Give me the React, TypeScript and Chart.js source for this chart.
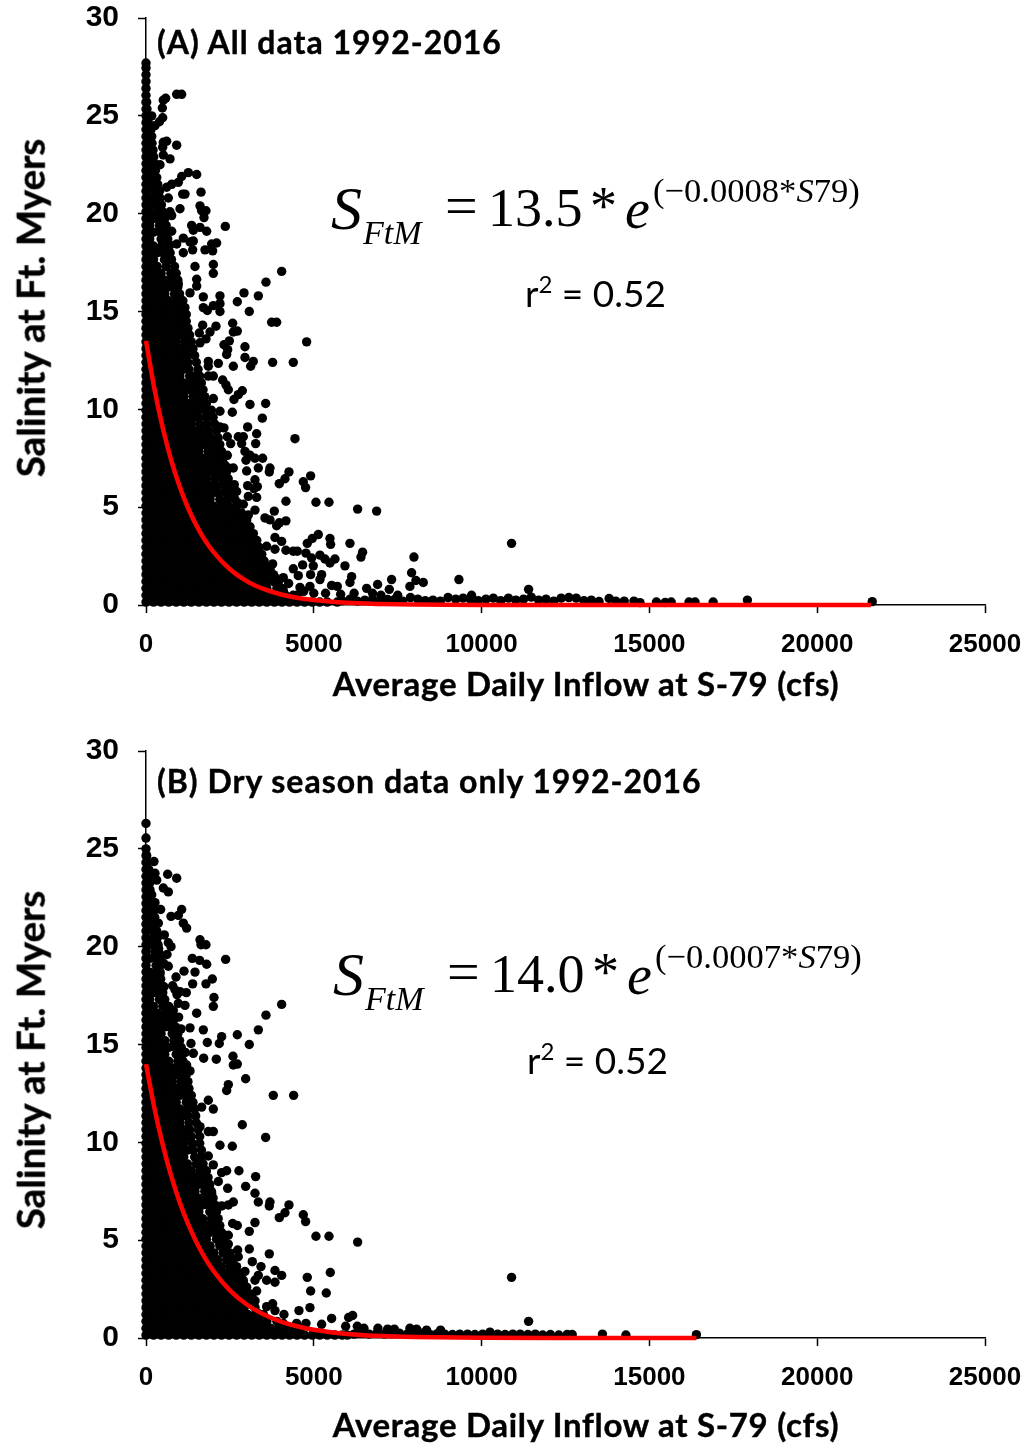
import React, { useEffect, useRef } from "react";
import { Chart, registerables } from "chart.js";

Chart.register(...registerables);

const xTicks = [0, 5000, 10000, 15000, 20000, 25000];
const yTicks = [0, 5, 10, 15, 20, 25, 30];

const fitInflowA = [0, 250, 500, 750, 1000, 1250, 1500, 1750, 2000, 2500, 3000, 3500, 4000, 4500, 5000, 6000, 7000, 8000, 10000, 12000, 15000, 21600];
const fitSalinityA = [13.5, 11.05, 9.05, 7.41, 6.07, 4.97, 4.07, 3.33, 2.73, 1.83, 1.22, 0.82, 0.55, 0.37, 0.25, 0.11, 0.05, 0.02, 0.0, 0.0, 0.0, 0.0];
const fitInflowB = [0, 250, 500, 750, 1000, 1250, 1500, 1750, 2000, 2500, 3000, 3500, 4000, 4500, 5000, 6000, 7000, 8000, 10000, 12000, 16400];
const fitSalinityB = [14.0, 11.75, 9.87, 8.28, 6.95, 5.84, 4.9, 4.11, 3.45, 2.43, 1.71, 1.21, 0.85, 0.6, 0.42, 0.21, 0.1, 0.05, 0.01, 0.0, 0.0];

// Dense mass near the axis: [salinity, inflows read across that level]
const denseA: [number, number[]][] = [
[0.15,[0,225,450,675,900,1125,1350,1575,1800,2025,2250,2475,2700,2925,3150,3375,3600,3825,4050,4275,4500,4725,4950,5175,5400,5700]],
[0.5,[0,110,335,560,785,1010,1235,1460,1685,1910,2135,2360,2585,2810,3035,3260,3485,3710,3935,4160,4385,4500]],
[0.85,[0,225,450,675,900,1125,1350,1575,1800,2025,2250,2475,2700,2925,3150,3375,3600,3900,4050]],
[1.2,[0,110,335,560,785,1010,1235,1460,1685,1910,2135,2360,2585,2810,3035,3260,3485,3600,3780,3950]],
[1.55,[0,225,450,675,900,1125,1350,1575,1800,2025,2250,2475,2700,2925,3150,3350,3550,3800]],
[1.9,[0,110,335,560,785,1010,1235,1460,1685,1910,2135,2360,2585,2810,3035,3150,3350,3520,3680]],
[2.25,[0,225,450,675,900,1125,1350,1575,1800,2025,2250,2475,2700,2925,3000,3200,3400,3520]],
[2.6,[0,110,335,560,785,1010,1235,1460,1685,1910,2135,2360,2585,2810,2950,3150,3300,3450]],
[2.95,[0,225,450,675,900,1125,1350,1575,1800,2025,2250,2475,2700,2850,3070,3230,3370]],
[3.3,[0,110,335,560,785,1010,1235,1460,1685,1910,2135,2360,2585,2750,2960,3130,3300]],
[3.65,[0,225,450,675,900,1125,1350,1575,1800,2025,2250,2475,2650,2860,3030,3200]],
[4.0,[0,110,335,560,785,1010,1235,1460,1685,1910,2135,2360,2550,2770,2940,3100]],
[4.35,[0,225,450,675,900,1125,1350,1575,1800,2025,2250,2450,2670,2840,3000]],
[4.7,[0,110,335,560,785,1010,1235,1460,1685,1910,2135,2350,2570,2720,2850]],
[5.05,[0,225,450,675,900,1125,1350,1575,1800,2025,2250,2470,2700]],
[5.4,[0,110,335,560,785,1010,1235,1460,1685,1910,2200,2420,2650]],
[5.75,[0,225,450,675,900,1125,1350,1575,1800,2025,2150,2370,2550]],
[6.1,[0,110,335,560,785,1010,1235,1460,1685,1910,2100,2320,2500]],
[6.45,[0,225,450,675,900,1125,1350,1575,1800,2050,2270,2450]],
[6.8,[0,110,335,560,785,1010,1235,1460,1685,1910,2000,2220,2400]],
[7.15,[0,225,450,675,900,1125,1350,1575,1800,1950,2170,2350]],
[7.5,[0,110,335,560,785,1010,1235,1460,1685,1900,2120,2300]],
[7.85,[0,225,450,675,900,1125,1350,1575,1850,2060,2250]],
[8.2,[0,110,335,560,785,1010,1235,1460,1685,1800,2010,2200]],
[8.55,[0,225,450,675,900,1125,1350,1575,1700,1920,2150]],
[8.9,[0,110,335,560,785,1010,1235,1460,1650,1870,2100]],
[9.25,[0,225,450,675,900,1125,1350,1600,1820,2050]],
[9.6,[0,110,335,560,785,1010,1235,1460,1570,1790,2000]],
[9.95,[0,225,450,675,900,1125,1350,1550,1770,1950]],
[10.3,[0,110,335,560,785,1010,1235,1450,1650,1800]],
[10.65,[0,225,450,675,900,1125,1400,1600,1750]],
[11.0,[0,110,335,560,785,1010,1235,1370,1550,1700]],
[11.35,[0,225,450,675,900,1125,1350,1500,1650]],
[11.7,[0,110,335,560,785,1010,1300,1450,1600]],
[12.05,[0,225,450,675,900,1125,1280,1550]],
[12.4,[0,110,335,560,785,1010,1250,1500]],
[12.75,[0,225,450,675,900,1125,1230,1450]],
[13.1,[0,110,335,560,785,1010,1200,1400]],
[13.45,[0,225,450,675,900,1150,1350]],
[13.8,[0,110,335,560,785,1010,1120,1300]],
[14.15,[0,225,450,675,900,1100,1250]],
[14.5,[0,110,335,560,785,1000,1200]],
[14.85,[0,225,450,675,900,1050,1200]],
[15.2,[0,110,335,560,785,1000,1160]],
[15.55,[0,225,450,675,900,1100]],
[15.9,[0,110,335,560,850,1000]],
[16.25,[0,225,450,675,800,950]],
[16.6,[0,110,335,560,780,950]],
[16.95,[0,225,450,740,900]],
[17.3,[0,110,335,600,850]],
[17.65,[0,225,550,760]],
[18.0,[0,110,335,500,720]],
[18.35,[0,225,470,680]],
[18.7,[0,110,450,650]],
[19.05,[0,225,430,630]],
[19.4,[0,110,400,600]],
[19.75,[0,225,380,560]],
[20.1,[0,110,350,500]],
[20.45,[0,225,300,460]],
[20.8,[0,110,270,420]],
[21.15,[0,250,400]],
[21.5,[0,110,230,350]],
[21.85,[0,210,320]],
[22.2,[0,110,190,280]],
[22.55,[0,170,260]],
[22.9,[0,150,230]],
[23.25,[0,140,210]],
[23.6,[0,120,180]],
[23.95,[0,110,170]],
[24.3,[0,90,150]],
[24.65,[0,70]],
[25.0,[0,50]],
[25.35,[0,30]],
[25.7,[0,20]],
[26.05,[0]],
[26.4,[0]],
[26.75,[0]],
[27.1,[0]],
[27.45,[0]],
[27.7,[0]],
];

const scatterA: [number, number][] = [
[1063,26.1],[914,26.1],[586,25.9],[516,25.8],[487,25.4],[170,25],[497,24.9],[400,24.7],[268,24.5],[914,23.5],[616,23.7],[516,23.65],[497,23.4],[516,23],[715,22.8],[417,22.5],[1261,22.1],[1510,22],[1063,21.9],[963,21.6],[765,21.5],[616,21.35],[1639,21.1],[1162,21],[1092,21],[665,20.8],[1609,20.4],[1013,20.25],[1787,20.15],[1658,20.15],[715,20.1],[1728,19.8],[765,19.9],[2363,19.35],[1360,19.4],[1609,19.3],[1807,19.1],[1410,19.15],[765,19.1],[1112,18.75],[2105,18.5],[1956,18.45],[1410,18.6],[1311,18.55],[1758,18.15],[1986,18.1],[1390,18.15],[914,18.45],[715,18.4],[1112,18],[566,17.95],[2006,17.4],[1460,17.3],[2006,16.95],[4042,17.05],[3575,16.5],[1510,16.65],[1510,16.3],[963,16.4],[2920,15.95],[3347,15.8],[2204,15.8],[1708,15.75],[1311,15.95],[2721,15.5],[2204,15.4],[2006,15.3],[1708,15.2],[1827,15.05],[2204,15],[3078,15],[3744,14.45],[3893,14.45],[2582,14.4],[2085,14.25],[1688,14.3],[2721,14],[2602,13.95],[1907,13.95],[1589,13.9],[1787,13.6],[4786,13.45],[2483,13.5],[2323,13.3],[2949,13.2],[1609,13.4],
[2433,13.05],[2403,12.8],[2949,12.65],[3197,12.45],[3118,12.2],[3773,12.4],[4389,12.4],[2602,12.2],[2155,12.35],[1857,12.45],[1857,12.2],[2006,11.7],[1857,11.7],[2284,11.5],[2383,11.25],[2453,11],[2870,10.95],[2750,10.75],[2621,10.5],[3098,10.25],[3565,10.3],[2006,10.55],[2204,9.9],[2572,9.85],[3466,9.55],[3029,9.1],[3297,8.75],[2204,9.1],[2323,9.05],[4439,8.5],[2900,8.6],[2750,8.6],[2423,8.6],[3267,8.25],[2850,8.25],[2522,8.25],[2949,7.85],[3098,7.65],[2979,7.4],[3247,7.5],[3475,7.5],[2423,7.65],[3346,7],[3694,7],[3674,6.8],[2999,6.85],[2602,7],[2453,7],[4260,6.8],[4905,6.6],[4687,6.3],[4756,6],[4141,6.45],[3972,6.2],[3247,6.4],[3317,6.05],[3029,6.1],[3217,5.95],[2631,6.15],[2701,5.8],[2552,5.7],[3297,5.5],[3049,5.55],[4170,5.3],[5064,5.25],[5452,5.25],[6306,4.9],[6872,4.8],[2900,5.15],[2750,5.2],[3247,4.85],[3823,4.8],[3049,4.6],[3545,4.45],[3694,4.35],[4170,4.3],[3972,4.2],[3893,4.05],[2701,4.7],[5134,3.6],[4955,3.4],[4806,3.15],[5482,3.4],[5501,3.1],[6077,3.15],[3843,3.45],[4042,3.25],[6454,2.7],[6405,2.45],[7984,2.45],[10893,3.15],[4170,2.8],[3843,2.85],[3595,3],[4389,2.75],[4508,2.75],[4766,2.65],[4935,2.4],[5183,2.55],[5332,2.35],[5482,2.15],[5631,2.35],[5928,2],[4667,2.05],[4985,2],[4905,1.55],[4389,1.85],[4538,1.5],[3773,2.1],[3495,2.25],[5233,1.55],[5183,1.3],[6127,1.45],[6077,1.15],[7914,1.65],[7318,1.3],[9324,1.3],[6901,1.05],[8043,1.25],[8262,1.15],[7864,0.95],[5531,1],[5700,0.95],[4091,1.4],[3843,1.4],[3595,1.55],[3347,1.35],[4885,0.95],[4588,0.9],[4091,0.75],[7249,0.8],[6574,0.85],[9701,0.5],[3700,1.8],[4250,1.1],[4700,0.7],[5000,0.6],[5350,0.6],[5800,0.55],[6200,0.6],[6750,0.6],[7000,0.5],[7500,0.5],
[5850,0.22],[6080,0.3],[6300,0.2],[6520,0.25],[6750,0.3],[6980,0.18],[7200,0.28],[7420,0.3],[7650,0.2],[7880,0.38],[8100,0.3],[8320,0.22],[8550,0.25],[8770,0.2],[9000,0.38],[9230,0.3],[9450,0.35],[9680,0.25],[9900,0.22],[10130,0.3],[10350,0.35],[10570,0.22],[10800,0.35],[11020,0.25],[11250,0.3],[11400,0.8],[11480,0.4],[11700,0.25],[11920,0.3],[12150,0.2],[12370,0.35],[12600,0.38],[12820,0.35],[13050,0.22],[13270,0.25],[13500,0.18],[13800,0.33],[14000,0.2],[14250,0.2],[14540,0.2],[14720,0.12],[15210,0.15],[15470,0.13],[15650,0.15],[16180,0.15],[16360,0.15],[16900,0.15],[17920,0.25],[21640,0.17],
];

const denseB: [number, number[]][] = [
[0.15,[0,225,450,675,900,1125,1350,1575,1800,2025,2250,2475,2700,2925,3150,3375,3600,3825,4050,4275,4500,4725,4950,5175,5400,5625,5850,6000]],
[0.5,[0,110,335,560,785,1010,1235,1460,1685,1910,2135,2360,2585,2810,3035,3260,3485,3710,3935,4160,4385,4600]],
[0.85,[0,225,450,675,900,1125,1350,1575,1800,2025,2250,2475,2700,2925,3150,3375,3600,3900]],
[1.2,[0,110,335,560,785,1010,1235,1460,1685,1910,2135,2360,2585,2810,3035,3260,3500]],
[1.55,[0,225,450,675,900,1125,1350,1575,1800,2025,2250,2475,2700,2925,3250]],
[1.9,[0,110,335,560,785,1010,1235,1460,1685,1910,2135,2360,2585,2810,3050,3250]],
[2.25,[0,225,450,675,900,1125,1350,1575,1800,2025,2250,2475,2700,2900,3100]],
[2.6,[0,110,335,560,785,1010,1235,1460,1685,1910,2135,2360,2585,2800,3000]],
[2.95,[0,225,450,675,900,1125,1350,1575,1800,2025,2250,2475,2700,2900]],
[3.3,[0,110,335,560,785,1010,1235,1460,1685,1910,2135,2360,2600,2800]],
[3.65,[0,225,450,675,900,1125,1350,1575,1800,2025,2250,2500,2700]],
[4.0,[0,110,335,560,785,1010,1235,1460,1685,1910,2135,2400,2600]],
[4.35,[0,225,450,675,900,1125,1350,1575,1800,2025,2300,2500]],
[4.7,[0,110,335,560,785,1010,1235,1460,1685,1910,2200,2400]],
[5.05,[0,225,450,675,900,1125,1350,1575,1800,2100,2300]],
[5.4,[0,110,335,560,785,1010,1235,1460,1685,1910,2050,2250]],
[5.75,[0,225,450,675,900,1125,1350,1575,1800,2000,2200]],
[6.1,[0,110,335,560,785,1010,1235,1460,1685,1950,2150]],
[6.45,[0,225,450,675,900,1125,1350,1575,1900,2100]],
[6.8,[0,110,335,560,785,1010,1235,1460,1685,1850,2050]],
[7.15,[0,225,450,675,900,1125,1350,1575,1800,2000]],
[7.5,[0,110,335,560,785,1010,1235,1460,1750,1950]],
[7.85,[0,225,450,675,900,1125,1350,1575,1700,1900]],
[8.2,[0,110,335,560,785,1010,1235,1460,1650,1850]],
[8.55,[0,225,450,675,900,1125,1350,1600,1800]],
[8.9,[0,110,335,560,785,1010,1235,1500,1700]],
[9.25,[0,225,450,675,900,1125,1450,1650]],
[9.6,[0,110,335,560,785,1010,1235,1400,1650]],
[9.95,[0,225,450,675,900,1125,1380,1600]],
[10.3,[0,110,335,560,785,1010,1235,1350,1600]],
[10.65,[0,225,450,675,900,1125,1300,1550]],
[11.0,[0,110,335,560,785,1010,1280,1500]],
[11.35,[0,225,450,675,900,1125,1250,1480]],
[11.7,[0,110,335,560,785,1010,1230,1450]],
[12.05,[0,225,450,675,900,1200,1400]],
[12.4,[0,110,335,560,785,1010,1150,1350]],
[12.75,[0,225,450,675,900,1100,1280]],
[13.1,[0,110,335,560,785,1050,1250]],
[13.45,[0,225,450,675,900,1020,1200]],
[13.8,[0,110,335,560,785,1000,1150]],
[14.15,[0,225,450,675,950,1100]],
[14.5,[0,110,335,560,900,1080]],
[14.85,[0,225,450,675,880,1050]],
[15.2,[0,110,335,560,830,1000]],
[15.55,[0,225,450,780,950]],
[15.9,[0,110,335,560,700,880]],
[16.25,[0,225,450,650,820]],
[16.6,[0,110,335,600,760]],
[16.95,[0,225,500,680]],
[17.3,[0,110,400,560]],
[17.65,[0,225,350,500]],
[18.0,[0,110,330,470]],
[18.35,[0,225,300,440]],
[18.7,[0,110,280,420]],
[19.05,[0,300,430]],
[19.4,[0,110,280,420]],
[19.75,[0,260,380]],
[20.1,[0,110,240,360]],
[20.45,[0,220,340]],
[20.8,[0,200,320]],
[21.15,[0,190,290]],
[21.5,[0,170,260]],
[21.85,[0,150,240]],
[22.2,[0,140]],
[22.55,[0,130]],
[22.9,[0,120]],
[23.25,[0,110]],
[23.6,[0,100]],
[23.95,[0,80]],
[24.3,[0,50]],
[24.65,[0,20]],
[25.0,[0]],
];

const scatterB: [number, number][] = [
[0,26.3],[0,25.55],[238,24.35],[645,23.7],[914,23.5],[268,23.75],[318,23.4],[516,23],[665,22.8],[170,22.65],[268,22.25],[437,21.9],[1063,21.9],[745,21.55],[963,21.6],[1112,21.2],[1211,20.95],[367,21.2],[546,20.6],[1609,20.35],[1639,20.1],[1787,20.1],[665,20.2],[745,20],[377,19.9],[626,19.6],[1380,19.4],[1599,19.3],[1807,19.1],[2373,19.35],[665,19],[526,19.15],[1132,18.75],[1460,18.7],[417,18.6],[894,18.45],[1976,18.35],[1390,18.1],[1787,18.1],[794,18],[536,17.95],[864,17.8],[1201,17.65],[1013,17.7],[924,17.55],[417,17.5],[2026,17.4],[4042,17.05],[526,17],[963,17.1],[1162,17],[2006,16.95],[814,16.75],[1510,16.6],[3575,16.5],[973,16.4],[516,16.5],[1043,15.8],[1311,15.85],[1708,15.75],[3347,15.75],[2721,15.5],[2254,15.4],[1827,15.1],[2184,15.05],[1340,15.05],[3078,15],[2592,14.4],[1718,14.3],[2095,14.25],[1410,14.55],[1172,14.6],[2721,14],[2602,13.95],[1311,13.65],[1211,13.95],[2969,13.25],
[2453,12.95],[2403,12.65],[3793,12.4],[4399,12.4],[1857,12.15],[2006,11.7],[1658,11.8],[2870,10.9],[3565,10.25],[2006,10.55],[1857,10.55],[1609,10.8],[2204,9.85],[2572,9.8],[1857,9.3],[2006,8.85],[2770,8.55],[2403,8.55],[2254,8.45],[3267,8.25],[2155,8],[2969,7.75],[2433,7.65],[3247,7.4],[1956,7.4],[3346,6.95],[3694,6.95],[3674,6.75],[4260,6.8],[2602,6.95],[2453,6.8],[2254,6.75],[4687,6.3],[4756,5.95],[4141,6.4],[3972,6.15],[3247,5.9],[2581,5.85],[2721,5.75],[3078,5.45],[5064,5.2],[5452,5.2],[6306,4.9],[2453,5.25],[2453,4.8],[2204,4.8],[3078,4.55],[2731,4.5],[3674,4.3],[2750,4.15],[3167,3.9],[3425,3.65],[3843,3.45],[4042,3.2],[2949,3.4],[3347,3.2],[3247,2.95],[3595,2.95],[3843,2.85],[4806,3.1],[5492,3.35],[10893,3.1],[4905,2.4],[5372,2.3],[2900,2.8],[2651,2.85],[3297,2.4],[3148,2.1],[2900,1.95],[3773,1.75],[4558,1.4],[4885,1.55],[4111,1.2],[5531,1],[6157,1.15],[6038,1.05],[3843,1.4],[3595,1.6],[3347,1.25],[4091,0.75],[4488,0.75],[4766,0.75],[5233,0.7],[5948,0.6],[6296,0.6],[6494,0.5],[6911,0.5],[7200,0.45],[7400,0.45],[7864,0.5],[8063,0.45],[8360,0.4],[8778,0.4],[10248,0.3],[11400,0.85],
[6200,0.2],[6420,0.25],[6650,0.2],[6880,0.25],[7100,0.2],[7320,0.22],[7550,0.25],[7780,0.2],[8000,0.22],[8220,0.25],[8450,0.2],[8680,0.22],[8900,0.2],[9130,0.18],[9350,0.2],[9580,0.2],[9800,0.18],[10030,0.2],[10260,0.18],[10480,0.2],[10700,0.18],[10930,0.2],[11150,0.2],[11380,0.18],[11600,0.2],[11820,0.15],[12050,0.18],[12300,0.15],[12550,0.18],[12700,0.18],[13600,0.2],[14300,0.15],[16400,0.17],
];

const toPoints = (dense: [number, number[]][], extra: [number, number][]) => [
  ...dense.flatMap(([s, xs]) => xs.map((x) => ({ x, y: s }))),
  ...extra.map(([x, y]) => ({ x, y })),
];

const clearPadding = (s: any) => {
  s.paddingTop = 0;
  s.paddingBottom = 0;
  s.paddingLeft = 0;
  s.paddingRight = 0;
};

function Panel({ top, height, bottom, plotTop, dense, extra, fitX, fitY }: any) {
  const ref = useRef<HTMLCanvasElement>(null);
  useEffect(() => {
    const chart = new Chart(ref.current!, {
      type: "scatter",
      data: {
        datasets: [
          {
            label: "Daily salinity",
            data: toPoints(dense, extra),
            backgroundColor: "#000000",
            borderWidth: 0,
            pointRadius: 4.7,
            clip: false,
            order: 2,
          },
          {
            label: "Fit",
            data: fitX.map((x: number, i: number) => ({ x, y: fitY[i] })),
            showLine: true,
            borderColor: "#ff0000",
            borderWidth: 4.5,
            pointRadius: 0,
            cubicInterpolationMode: "monotone",
            clip: false,
            order: 1,
          },
        ],
      },
      options: {
        responsive: false,
        animation: false,
        devicePixelRatio: 1,
        layout: { padding: { top: plotTop, right: 44, left: 0, bottom: 0 } },
        plugins: { legend: { display: false }, tooltip: { enabled: false } },
        scales: {
          x: {
            type: "linear",
            min: 0,
            max: 25000,
            afterFit: (s: any) => { s.height = height - bottom; clearPadding(s); },
            afterBuildTicks: (s: any) => { s.ticks = xTicks.map((value) => ({ value })); },
            border: { color: "#000", width: 1.5 },
            grid: { drawOnChartArea: false, tickLength: 8, tickColor: "#000", tickWidth: 1.5 },
            ticks: {
              color: "#000",
              padding: 16,
              maxRotation: 0,
              font: { family: "'Liberation Sans'", weight: "bold", size: 26 },
              callback: (v: any) => String(v),
            },
          },
          y: {
            type: "linear",
            min: 0,
            max: 30,
            afterFit: (s: any) => { s.width = 146; clearPadding(s); },
            afterBuildTicks: (s: any) => { s.ticks = yTicks.map((value) => ({ value })); },
            border: { color: "#000", width: 1.5 },
            grid: { drawOnChartArea: false, tickLength: 8, tickColor: "#000", tickWidth: 1.5 },
            ticks: {
              color: "#000",
              padding: 19,
              font: { family: "'Liberation Sans'", weight: "bold", size: 30 },
              callback: (v: any) => String(v),
            },
          },
        },
      } as any,
    });
    return () => chart.destroy();
  }, []);
  return (
    <canvas
      ref={ref}
      width={1029}
      height={height}
      style={{ position: "absolute", left: 0, top, width: 1029, height }}
    />
  );
}

const place = (left: number, top: number, extra: any = {}): any => ({
  position: "absolute",
  left,
  top,
  whiteSpace: "nowrap",
  color: "#000",
  lineHeight: 1,
  ...extra,
});

const lato = { fontFamily: "Lato, 'Noto Sans', sans-serif" };
const serif = { fontFamily: "'Liberation Serif', serif" };
const heavy = { fontWeight: 700, WebkitTextStroke: "0.4px #000" };

function Equation({ dx, dy, coef, rate }: { dx: number; dy: number; coef: string; rate: string }) {
  return (
    <>
      <span style={place(331 + dx, 177 + dy, { ...serif, fontStyle: "italic", fontSize: 62 })}>S</span>
      <span style={place(363 + dx, 216 + dy, { ...serif, fontStyle: "italic", fontSize: 34 })}>FtM</span>
      <span style={place(445 + dx, 177 + dy, { ...serif, fontSize: 58 })}>=</span>
      <span style={place(488 + dx, 181 + dy, { ...serif, fontSize: 54 })}>{coef}</span>
      <span style={place(590 + dx, 179 + dy, { ...serif, fontSize: 54 })}>*</span>
      <span style={place(625 + dx, 181 + dy, { ...serif, fontStyle: "italic", fontSize: 56 })}>e</span>
      <span style={place(653 + dx, 173 + dy, { ...serif, fontSize: 34.6 })}>
        {"(−" + rate + "*"}
        <i>S</i>
        {"79)"}
      </span>
    </>
  );
}

export default function App() {
  const yTitle = (cy: number): any =>
    place(30, cy, {
      ...lato,
      ...heavy,
      fontSize: 38.5,
      transform: "translate(-50%, -50%) rotate(-90deg)",
    });
  const xTitle = (cy: number): any =>
    place(586, cy, { ...lato, ...heavy, fontSize: 33, letterSpacing: 0.7, transform: "translate(-50%, -50%)" });
  const label = (left: number, cy: number): any =>
    place(left, cy, { ...lato, ...heavy, fontSize: 32, letterSpacing: 1, transform: "translateY(-50%)" });
  const rr = (left: number, cy: number): any =>
    place(left, cy, { ...lato, fontSize: 37, transform: "translateY(-50%)" });
  return (
    <div style={{ position: "absolute", left: 0, top: 0, width: 1029, height: 1443, background: "#fff", overflow: "hidden" }}>
      <Panel top={0} height={720} bottom={605} plotTop={18} dense={denseA} extra={scatterA} fitX={fitInflowA} fitY={fitSalinityA} />
      <Panel top={720} height={723} bottom={618} plotTop={31} dense={denseB} extra={scatterB} fitX={fitInflowB} fitY={fitSalinityB} />
      <span style={yTitle(308)}>Salinity at Ft. Myers</span>
      <span style={yTitle(1060)}>Salinity at Ft. Myers</span>
      <span style={xTitle(683)}>Average Daily Inflow at S-79 (cfs)</span>
      <span style={xTitle(1424)}>Average Daily Inflow at S-79 (cfs)</span>
      <span style={label(157, 42)}>(A) All data 1992-2016</span>
      <span style={label(157, 781)}>(B) Dry season data only 1992-2016</span>
      <Equation dx={0} dy={0} coef="13.5" rate="0.0008" />
      <Equation dx={2} dy={766} coef="14.0" rate="0.0007" />
      <span style={rr(525, 292)}>r<sup style={{ fontSize: 24, lineHeight: 0 }}>2</sup> = 0.52</span>
      <span style={rr(527, 1059)}>r<sup style={{ fontSize: 24, lineHeight: 0 }}>2</sup> = 0.52</span>
    </div>
  );
}
